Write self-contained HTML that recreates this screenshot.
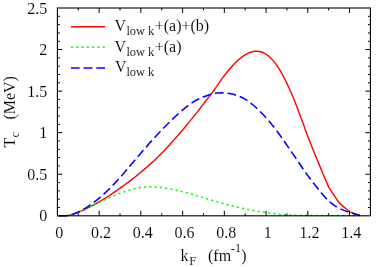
<!DOCTYPE html>
<html><head><meta charset="utf-8"><title>Tc vs kF</title>
<style>html,body{margin:0;padding:0;background:#fff;}body{width:382px;height:267px;overflow:hidden;}svg{display:block;will-change:transform;}text{font-family:"Liberation Serif",serif;fill:#000;stroke:#fff;stroke-width:0.1px;}</style></head><body>
<svg width="382" height="267" viewBox="0 0 382 267">
<rect x="0" y="0" width="382" height="267" fill="#fff"/>
<path d="M57.40 215.80 L59.40 215.80 L61.40 215.80 L63.40 215.80 L65.40 215.79 L67.40 215.57 L69.40 215.19 L71.40 214.68 L73.40 214.06 L75.40 213.35 L77.40 212.57 L79.40 211.76 L81.40 210.91 L83.40 210.03 L85.40 209.11 L87.40 208.16 L89.40 207.17 L91.40 206.13 L93.40 205.06 L95.40 203.96 L97.40 202.83 L99.40 201.67 L101.40 200.50 L103.40 199.30 L105.40 198.07 L107.40 196.81 L109.40 195.51 L111.40 194.17 L113.40 192.80 L115.40 191.40 L117.40 189.99 L119.40 188.57 L121.40 187.14 L123.40 185.72 L125.40 184.28 L127.40 182.83 L129.40 181.35 L131.40 179.83 L133.40 178.28 L135.40 176.70 L137.40 175.09 L139.40 173.45 L141.40 171.79 L143.40 170.10 L145.40 168.40 L147.40 166.66 L149.40 164.90 L151.40 163.11 L153.40 161.28 L155.40 159.42 L157.40 157.52 L159.40 155.57 L161.40 153.57 L163.40 151.51 L165.40 149.40 L167.40 147.25 L169.40 145.06 L171.40 142.84 L173.40 140.60 L175.40 138.33 L177.40 136.05 L179.40 133.74 L181.40 131.42 L183.40 129.07 L185.40 126.70 L187.40 124.30 L189.40 121.88 L191.40 119.42 L193.40 116.93 L195.40 114.39 L197.40 111.83 L199.40 109.25 L201.40 106.66 L203.40 104.07 L205.40 101.49 L207.40 98.91 L209.40 96.31 L211.40 93.67 L213.40 90.97 L215.40 88.19 L217.40 85.37 L219.40 82.53 L221.40 79.71 L223.40 76.95 L225.40 74.27 L227.40 71.71 L229.40 69.26 L231.40 66.94 L233.40 64.75 L235.40 62.69 L237.40 60.77 L239.40 58.99 L241.40 57.38 L243.40 55.93 L245.40 54.66 L247.40 53.57 L249.40 52.68 L251.40 51.99 L253.40 51.51 L255.40 51.26 L257.40 51.25 L259.40 51.48 L261.40 51.98 L263.40 52.74 L265.40 53.78 L267.40 55.11 L269.40 56.73 L271.40 58.66 L273.40 60.88 L275.40 63.40 L277.40 66.22 L279.40 69.33 L281.40 72.72 L283.40 76.37 L285.40 80.27 L287.40 84.40 L289.40 88.74 L291.40 93.29 L293.40 98.04 L295.40 102.99 L297.40 108.12 L299.40 113.42 L301.40 118.83 L303.40 124.30 L305.40 129.75 L307.40 135.14 L309.40 140.39 L311.40 145.52 L313.40 150.53 L315.40 155.46 L317.40 160.32 L319.40 165.13 L321.40 169.91 L323.40 174.66 L325.40 179.40 L327.40 184.12 L328.67 187.12 L339.10 202.90 L349.53 211.80 L359.97 215.50" fill="none" stroke="#f00" stroke-width="1.4" stroke-linejoin="round"/>
<path d="M57.40 215.80 L59.40 215.80 L61.40 215.80 L63.40 215.80 L65.40 215.80 L67.40 215.57 L69.40 215.19 L71.40 214.68 L73.40 214.05 L75.40 213.34 L77.40 212.57 L79.40 211.76 L81.40 210.93 L83.40 210.07 L85.40 209.18 L87.40 208.27 L89.40 207.33 L91.40 206.36 L93.40 205.37 L95.40 204.38 L97.40 203.38 L99.40 202.40 L101.40 201.43 L103.40 200.48 L105.40 199.54 L107.40 198.62 L109.40 197.73 L111.40 196.84 L113.40 195.98 L115.40 195.15 L117.40 194.34 L119.40 193.56 L121.40 192.81 L123.40 192.10 L125.40 191.42 L127.40 190.78 L129.40 190.18 L131.40 189.61 L133.40 189.09 L135.40 188.61 L137.40 188.18 L139.40 187.81 L141.40 187.49 L143.40 187.23 L145.40 187.03 L147.40 186.89 L149.40 186.81 L151.40 186.79 L153.40 186.83 L155.40 186.92 L157.40 187.07 L159.40 187.26 L161.40 187.51 L163.40 187.79 L165.40 188.11 L167.40 188.46 L169.40 188.84 L171.40 189.24 L173.40 189.66 L175.40 190.09 L177.40 190.53 L179.40 190.99 L181.40 191.47 L183.40 191.96 L185.40 192.47 L187.40 193.00 L189.40 193.55 L191.40 194.11 L193.40 194.69 L195.40 195.28 L197.40 195.87 L199.40 196.48 L201.40 197.08 L203.40 197.69 L205.40 198.29 L207.40 198.90 L209.40 199.50 L211.40 200.09 L213.40 200.69 L215.40 201.29 L217.40 201.88 L219.40 202.46 L221.40 203.04 L223.40 203.60 L225.40 204.15 L227.40 204.68 L229.40 205.20 L231.40 205.70 L233.40 206.19 L235.40 206.67 L237.40 207.14 L239.40 207.60 L241.40 208.05 L243.40 208.49 L245.40 208.91 L247.40 209.32 L249.40 209.71 L251.40 210.08 L253.40 210.44 L255.40 210.79 L257.40 211.12 L259.40 211.44 L261.40 211.75 L263.40 212.06 L265.40 212.35 L267.40 212.64 L269.40 212.93 L271.40 213.21 L273.40 213.47 L275.40 213.73 L277.40 213.96 L279.40 214.19 L281.40 214.39 L283.40 214.57 L285.40 214.74 L287.40 214.89 L289.40 215.03 L291.40 215.14 L293.40 215.23 L295.40 215.30 L297.40 215.35 L299.40 215.38 L301.40 215.38 L303.40 215.38 L305.40 215.38 L307.40 215.38 L309.40 215.39 L311.40 215.41 L313.40 215.44 L315.40 215.47 L317.40 215.49 L319.40 215.51 L321.40 215.51 L323.40 215.51 L325.40 215.51 L327.40 215.50 L329.40 215.50 L331.40 215.50 L333.40 215.49 L335.40 215.49 L337.40 215.50 L339.40 215.50 L341.40 215.50 L343.40 215.51 L345.40 215.51 L347.40 215.51 L349.40 215.50 L351.40 215.49 L353.40 215.47 L355.40 215.45 L357.40 215.42 L359.40 215.40 L359.97 215.39" fill="none" stroke="#0f0" stroke-width="1.55" stroke-dasharray="2.1 3.2" stroke-dashoffset="3.3"/>
<path d="M59.00 215.78 L59.40 215.80 L61.40 215.80 L63.40 215.80 L65.40 215.69 L67.40 215.46 L69.40 215.11 L71.40 214.62 L73.40 214.01 L75.40 213.28 L77.40 212.44 L79.40 211.49 L81.40 210.45 L83.40 209.31 L85.40 208.10 L87.40 206.82 L89.40 205.47 L91.40 204.08 L93.40 202.63 L95.40 201.12 L97.40 199.55 L99.40 197.92 L101.40 196.22 L103.40 194.46 L105.40 192.64 L107.40 190.76 L109.40 188.82 L111.40 186.81 L113.40 184.75 L115.40 182.64 L117.40 180.47 L119.40 178.25 L121.40 175.99 L123.40 173.70 L125.40 171.37 L127.40 169.03 L129.40 166.67 L131.40 164.30 L133.40 161.94 L135.40 159.58 L137.40 157.23 L139.40 154.88 L141.40 152.54 L143.40 150.22 L145.40 147.91 L147.40 145.62 L149.40 143.35 L151.40 141.11 L153.40 138.89 L155.40 136.70 L157.40 134.54 L159.40 132.41 L161.40 130.31 L163.40 128.25 L165.40 126.22 L167.40 124.22 L169.40 122.24 L171.40 120.29 L173.40 118.37 L175.40 116.47 L177.40 114.61 L179.40 112.79 L181.40 111.02 L183.40 109.30 L185.40 107.65 L187.40 106.08 L189.40 104.60 L191.40 103.21 L193.40 101.93 L195.40 100.76 L197.40 99.69 L199.40 98.71 L201.40 97.80 L203.40 96.96 L205.40 96.17 L207.40 95.43 L209.40 94.77 L211.40 94.20 L213.40 93.72 L215.40 93.35 L217.40 93.09 L219.40 92.93 L221.40 92.87 L223.40 92.91 L225.40 93.02 L227.40 93.23 L229.40 93.52 L231.40 93.90 L233.40 94.37 L235.40 94.94 L237.40 95.60 L239.40 96.38 L241.40 97.27 L243.40 98.28 L245.40 99.42 L247.40 100.70 L249.40 102.11 L251.40 103.63 L253.40 105.27 L255.40 107.00 L257.40 108.83 L259.40 110.74 L261.40 112.74 L263.40 114.82 L265.40 116.99 L267.40 119.23 L269.40 121.57 L271.40 123.98 L273.40 126.48 L275.40 129.06 L277.40 131.72 L279.40 134.46 L281.40 137.26 L283.40 140.11 L285.40 142.98 L287.40 145.88 L289.40 148.79 L291.40 151.70 L293.40 154.62 L295.40 157.56 L297.40 160.51 L299.40 163.48 L301.40 166.45 L303.40 169.38 L305.40 172.27 L307.40 175.10 L309.40 177.83 L311.40 180.48 L313.40 183.06 L315.40 185.60 L317.40 188.09 L319.40 190.56 L321.40 193.00 L323.40 195.36 L325.40 197.59 L327.40 199.67 L329.40 201.54 L331.40 203.20 L333.40 204.70 L335.40 206.07 L337.40 207.36 L339.10 208.42 L349.53 212.60 L359.97 215.50" fill="none" stroke="#00f" stroke-width="1.55" stroke-dasharray="8.8 3.9" stroke-linejoin="round"/>
<path d="M78.27 215.80 v-2.50 M78.27 8.00 v2.50 M99.13 215.80 v-5.00 M99.13 8.00 v5.00 M120.00 215.80 v-2.50 M120.00 8.00 v2.50 M140.87 215.80 v-5.00 M140.87 8.00 v5.00 M161.73 215.80 v-2.50 M161.73 8.00 v2.50 M182.60 215.80 v-5.00 M182.60 8.00 v5.00 M203.47 215.80 v-2.50 M203.47 8.00 v2.50 M224.33 215.80 v-5.00 M224.33 8.00 v5.00 M245.20 215.80 v-2.50 M245.20 8.00 v2.50 M266.07 215.80 v-5.00 M266.07 8.00 v5.00 M286.93 215.80 v-2.50 M286.93 8.00 v2.50 M307.80 215.80 v-5.00 M307.80 8.00 v5.00 M328.67 215.80 v-2.50 M328.67 8.00 v2.50 M349.53 215.80 v-5.00 M349.53 8.00 v5.00 M57.40 207.49 h2.50 M370.40 207.49 h-2.50 M57.40 199.18 h2.50 M370.40 199.18 h-2.50 M57.40 190.86 h2.50 M370.40 190.86 h-2.50 M57.40 182.55 h2.50 M370.40 182.55 h-2.50 M57.40 174.24 h5.00 M370.40 174.24 h-5.00 M57.40 165.93 h2.50 M370.40 165.93 h-2.50 M57.40 157.62 h2.50 M370.40 157.62 h-2.50 M57.40 149.30 h2.50 M370.40 149.30 h-2.50 M57.40 140.99 h2.50 M370.40 140.99 h-2.50 M57.40 132.68 h5.00 M370.40 132.68 h-5.00 M57.40 124.37 h2.50 M370.40 124.37 h-2.50 M57.40 116.06 h2.50 M370.40 116.06 h-2.50 M57.40 107.74 h2.50 M370.40 107.74 h-2.50 M57.40 99.43 h2.50 M370.40 99.43 h-2.50 M57.40 91.12 h5.00 M370.40 91.12 h-5.00 M57.40 82.81 h2.50 M370.40 82.81 h-2.50 M57.40 74.50 h2.50 M370.40 74.50 h-2.50 M57.40 66.18 h2.50 M370.40 66.18 h-2.50 M57.40 57.87 h2.50 M370.40 57.87 h-2.50 M57.40 49.56 h5.00 M370.40 49.56 h-5.00 M57.40 41.25 h2.50 M370.40 41.25 h-2.50 M57.40 32.94 h2.50 M370.40 32.94 h-2.50 M57.40 24.62 h2.50 M370.40 24.62 h-2.50 M57.40 16.31 h2.50 M370.40 16.31 h-2.50" stroke="#000" stroke-width="1" fill="none"/>
<rect x="57.40" y="8.00" width="313.00" height="207.80" fill="none" stroke="#000" stroke-width="1.1"/>
<path d="M70.9 26.7 H105.2" stroke="#f00" stroke-width="1.4"/>
<path d="M70.9 47.3 H105.2" stroke="#0f0" stroke-width="1.55" stroke-dasharray="2.1 3.2"/>
<path d="M70.9 68.0 H105.2" stroke="#00f" stroke-width="1.55" stroke-dasharray="8.8 3.9"/>
<text x="114.60" y="30.60" font-size="16.00">V</text><text x="126.4" y="34.90" font-size="12.40">low k</text><text x="154.7" y="30.60" font-size="16.00">+(a)+(b)</text>
<text x="114.60" y="51.80" font-size="16.00">V</text><text x="126.4" y="56.10" font-size="12.40">low k</text><text x="154.7" y="51.80" font-size="16.00">+(a)</text>
<text x="115.10" y="71.90" font-size="16.00">V</text><text x="126.4" y="76.20" font-size="12.40">low k</text>
<text x="47.2" y="221.30" font-size="16.00" text-anchor="end">0</text>
<text x="47.2" y="179.74" font-size="16.00" text-anchor="end">0.5</text>
<text x="47.2" y="138.18" font-size="16.00" text-anchor="end">1</text>
<text x="47.2" y="96.62" font-size="16.00" text-anchor="end">1.5</text>
<text x="47.2" y="55.06" font-size="16.00" text-anchor="end">2</text>
<text x="47.2" y="13.50" font-size="16.00" text-anchor="end">2.5</text>
<text x="59.20" y="237.6" font-size="16.00" text-anchor="middle">0</text>
<text x="100.93" y="237.6" font-size="16.00" text-anchor="middle">0.2</text>
<text x="142.67" y="237.6" font-size="16.00" text-anchor="middle">0.4</text>
<text x="184.40" y="237.6" font-size="16.00" text-anchor="middle">0.6</text>
<text x="226.13" y="237.6" font-size="16.00" text-anchor="middle">0.8</text>
<text x="267.87" y="237.6" font-size="16.00" text-anchor="middle">1</text>
<text x="309.60" y="237.6" font-size="16.00" text-anchor="middle">1.2</text>
<text x="351.33" y="237.6" font-size="16.00" text-anchor="middle">1.4</text>
<text x="180.6" y="260.6" font-size="16.00">k</text>
<text x="189.2" y="265" font-size="12.40">F</text>
<text x="208" y="260.6" font-size="16.00">(fm</text>
<text x="230.8" y="252.1" font-size="12.40">-1</text>
<text x="241.3" y="260.6" font-size="16.00">)</text>
<g transform="translate(15.1 147.6) rotate(-90)">
<text x="0" y="0" font-size="16.00">T</text>
<text x="10" y="4" font-size="12.40">c</text>
<text x="28" y="0" font-size="16.00">(MeV)</text>
</g>
</svg></body></html>
